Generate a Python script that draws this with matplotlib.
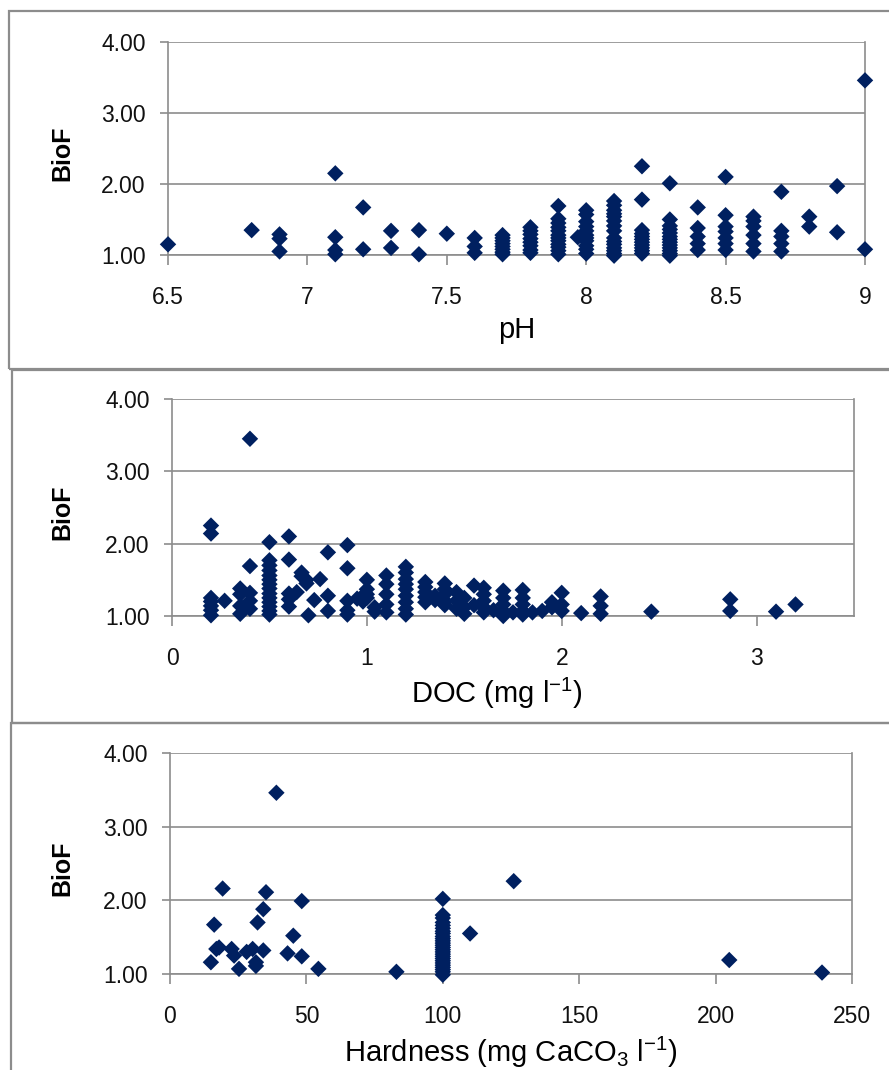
import matplotlib.pyplot as plt
from matplotlib.patches import Rectangle

# BioF against pH
ph = [6.5, 6.8, 6.9, 6.9, 6.9,
      7.1, 7.1, 7.1, 7.1, 7.2, 7.2, 7.3, 7.3, 7.4, 7.4, 7.5,
      7.6, 7.6, 7.6,
      7.7, 7.7, 7.7, 7.7, 7.7, 7.7, 7.7, 7.7,
      7.8, 7.8, 7.8, 7.8, 7.8, 7.8, 7.8, 7.8,
      7.9, 7.9, 7.9, 7.9, 7.9, 7.9, 7.9, 7.9, 7.9, 7.9, 7.9, 7.9,
      7.97,
      8.0, 8.0, 8.0, 8.0, 8.0, 8.0, 8.0, 8.0, 8.0, 8.0, 8.0,
      8.1, 8.1, 8.1, 8.1, 8.1, 8.1, 8.1, 8.1, 8.1, 8.1, 8.1, 8.1, 8.1, 8.1, 8.1,
      8.2, 8.2, 8.2, 8.2, 8.2, 8.2, 8.2, 8.2, 8.2, 8.2, 8.2,
      8.3, 8.3, 8.3, 8.3, 8.3, 8.3, 8.3, 8.3, 8.3, 8.3, 8.3, 8.3, 8.3,
      8.4, 8.4, 8.4, 8.4, 8.4,
      8.5, 8.5, 8.5, 8.5, 8.5, 8.5, 8.5,
      8.6, 8.6, 8.6, 8.6, 8.6, 8.6,
      8.7, 8.7, 8.7, 8.7, 8.7,
      8.8, 8.8, 8.9, 8.9, 9.0, 9.0]
biof_ph = [1.15, 1.35, 1.29, 1.23, 1.05,
           2.15, 1.25, 1.07, 1.01, 1.67, 1.08, 1.34, 1.10, 1.35, 1.01, 1.30,
           1.24, 1.12, 1.03,
           1.28, 1.24, 1.20, 1.16, 1.12, 1.08, 1.04, 1.01,
           1.39, 1.34, 1.29, 1.23, 1.18, 1.13, 1.07, 1.03,
           1.69, 1.51, 1.45, 1.39, 1.34, 1.28, 1.24, 1.20, 1.15, 1.11, 1.06, 1.01,
           1.25,
           1.63, 1.57, 1.47, 1.40, 1.34, 1.28, 1.24, 1.20, 1.13, 1.08, 1.02,
           1.76, 1.70, 1.63, 1.58, 1.54, 1.48, 1.41, 1.34, 1.24, 1.19, 1.15, 1.10, 1.06, 1.02, 0.99,
           2.25, 1.78, 1.35, 1.30, 1.26, 1.22, 1.18, 1.14, 1.10, 1.06, 1.02,
           2.01, 1.50, 1.41, 1.36, 1.31, 1.26, 1.22, 1.18, 1.14, 1.10, 1.06, 1.02, 0.99,
           1.67, 1.38, 1.26, 1.16, 1.07,
           2.10, 1.56, 1.40, 1.33, 1.24, 1.16, 1.07,
           1.54, 1.48, 1.40, 1.28, 1.16, 1.05,
           1.89, 1.34, 1.26, 1.16, 1.05,
           1.54, 1.40, 1.97, 1.32, 3.46, 1.08]

# BioF against dissolved organic carbon
doc = [0.2, 0.2, 0.2, 0.2, 0.2, 0.2, 0.2, 0.27,
       0.35, 0.35, 0.35, 0.35, 0.4, 0.4, 0.4, 0.4, 0.4,
       0.5, 0.5, 0.5, 0.5, 0.5, 0.5, 0.5, 0.5, 0.5, 0.5, 0.5, 0.5, 0.5, 0.5,
       0.6, 0.6, 0.6, 0.6, 0.6, 0.64, 0.665, 0.665, 0.69, 0.69, 0.7, 0.73, 0.76,
       0.8, 0.8, 0.8, 0.9, 0.9, 0.9, 0.9, 0.9, 0.95, 0.98, 0.98,
       1.0, 1.0, 1.0, 1.0, 1.04, 1.04,
       1.1, 1.1, 1.1, 1.1, 1.1,
       1.2, 1.2, 1.2, 1.2, 1.2, 1.2, 1.2, 1.2, 1.2,
       1.3, 1.3, 1.3, 1.3, 1.3, 1.35, 1.35,
       1.4, 1.4, 1.4, 1.4, 1.4, 1.46, 1.46, 1.46, 1.5, 1.5, 1.5, 1.55, 1.55,
       1.6, 1.6, 1.6, 1.6, 1.6, 1.65,
       1.7, 1.7, 1.7, 1.7, 1.7, 1.75,
       1.8, 1.8, 1.8, 1.8, 1.8, 1.85, 1.9, 1.95, 1.95,
       2.0, 2.0, 2.0, 2.1, 2.2, 2.2, 2.2, 2.46, 2.865, 2.865, 3.1, 3.2]
biof_doc = [2.25, 2.14, 1.25, 1.20, 1.14, 1.08, 1.01, 1.21,
            1.38, 1.30, 1.14, 1.03, 3.45, 1.69, 1.32, 1.21, 1.10,
            2.02, 1.77, 1.70, 1.63, 1.56, 1.50, 1.44, 1.38, 1.31, 1.25, 1.19, 1.13, 1.07, 1.02,
            2.10, 1.78, 1.31, 1.23, 1.13, 1.33, 1.60, 1.55, 1.50, 1.45, 1.01, 1.22, 1.51,
            1.88, 1.28, 1.07, 1.98, 1.66, 1.21, 1.08, 1.02, 1.24, 1.28, 1.20,
            1.50, 1.37, 1.30, 1.25, 1.12, 1.06,
            1.56, 1.44, 1.30, 1.16, 1.05,
            1.68, 1.60, 1.51, 1.44, 1.37, 1.28, 1.19, 1.10, 1.02,
            1.47, 1.40, 1.33, 1.26, 1.19, 1.28, 1.22,
            1.45, 1.37, 1.30, 1.21, 1.15, 1.33, 1.21, 1.10, 1.25, 1.12, 1.03, 1.42, 1.15,
            1.39, 1.30, 1.21, 1.12, 1.05, 1.08,
            1.35, 1.25, 1.16, 1.07, 1.00, 1.05,
            1.36, 1.25, 1.16, 1.07, 1.02, 1.05, 1.07, 1.19, 1.12,
            1.32, 1.16, 1.07, 1.04, 1.27, 1.14, 1.03, 1.06, 1.23, 1.07, 1.06, 1.16]

# BioF against hardness
hardness = [15, 16.2, 17, 18, 19.3, 22.6, 23.5, 25.3, 28.1, 30.3, 31.5, 31.5,
            32.1, 34.2, 34.2, 35.2, 39, 43.1, 45.2, 48.3, 48.3, 54.4, 83,
            100, 100, 100, 100, 100, 100, 100, 100, 100, 100, 100, 100, 100,
            100, 100, 100, 100, 100, 100, 100, 100, 100, 100, 100, 100, 100,
            110, 126, 205, 239]
biof_hardness = [1.16, 1.67, 1.34, 1.36, 2.16, 1.34, 1.25, 1.07, 1.30, 1.34, 1.16, 1.11,
                 1.70, 1.88, 1.32, 2.11, 3.46, 1.28, 1.52, 1.99, 1.24, 1.07, 1.03,
                 2.02, 1.80, 1.76, 1.70, 1.66, 1.62, 1.58, 1.55, 1.51, 1.48, 1.45, 1.42, 1.39,
                 1.36, 1.33, 1.30, 1.27, 1.24, 1.21, 1.18, 1.15, 1.12, 1.09, 1.06, 1.03, 0.99,
                 1.55, 2.26, 1.19, 1.02]

yticks = [1, 2, 3, 4]
ph_ticks = [6.5, 7, 7.5, 8, 8.5, 9]
ph_labels = ['6.5', '7', '7.5', '8', '8.5', '9']
doc_ticks = [0, 1, 2, 3]
hardness_ticks = [0, 50, 100, 150, 200, 250]

navy = '#002060'
grey = '#8c8c8c'
font = ['Liberation Sans', 'DejaVu Sans']

plt.rcParams['font.family'] = font
plt.rcParams['mathtext.fontset'] = 'custom'
plt.rcParams['mathtext.rm'] = 'Liberation Sans'
plt.rcParams['mathtext.default'] = 'regular'

fig = plt.figure(figsize=(8.89, 10.70), dpi=100)

# grey boxes around each chart
for x0, y0, h in [(0.010, 0.6551, 0.3346), (0.0135, 0.3243, 0.3299), (0.0124, -0.05, 0.3743)]:
    fig.patches.append(Rectangle((x0, y0), 1.2, h, transform=fig.transFigure,
                                 fill=False, edgecolor=grey, lw=1.6))

panels = [
    ([0.189, 0.7617, 0.784, 0.1990], ph, biof_ph, (6.5, 9), ph_ticks, ph_labels,
     'pH', (-0.152, 0.48), (0.50, -0.352)),
    ([0.1935, 0.4243, 0.7671, 0.2028], doc, biof_doc, (0, 3.5), doc_ticks,
     [str(t) for t in doc_ticks], 'DOC (mg l$^{-1}$)', (-0.161, 0.48), (0.477, -0.355)),
    ([0.1912, 0.0897, 0.7672, 0.2066], hardness, biof_hardness, (0, 250), hardness_ticks,
     [str(t) for t in hardness_ticks], 'Hardness (mg CaCO$_3$ l$^{-1}$)', (-0.158, 0.48), (0.50, -0.353)),
]

for rect, xs, ys, xlim, xt, xtl, xlabel, ylab_pos, xlab_pos in panels:
    ax = fig.add_axes(rect)
    ax.scatter(xs, ys, marker='D', s=70, color=navy, edgecolors='none',
               zorder=3, clip_on=False)
    ax.set_xlim(*xlim)
    ax.set_ylim(1, 4)
    ax.set_yticks(yticks)
    ax.set_yticklabels(['%.2f' % t for t in yticks])
    ax.set_xticks(xt)
    ax.set_xticklabels(xtl)
    ax.grid(axis='y', color=grey, lw=1.2)
    ax.set_axisbelow(True)
    for side in ['left', 'bottom', 'right']:
        ax.spines[side].set_color(grey)
        ax.spines[side].set_linewidth(1.2)
    ax.spines['top'].set_visible(False)
    ax.tick_params(axis='x', direction='out', length=7, width=1.2, color=grey,
                   pad=15, labelsize=16.5, labelcolor='#111111')
    ax.tick_params(axis='y', direction='out', length=6, width=1.2, color=grey,
                   pad=10, labelsize=16.5, labelcolor='#111111')
    ax.set_ylabel('BioF', fontsize=18, fontweight='bold')
    ax.yaxis.set_label_coords(*ylab_pos)
    ax.yaxis.label.set_va('center')
    ax.set_xlabel(xlabel, fontsize=21)
    ax.xaxis.set_label_coords(*xlab_pos)
    ax.xaxis.label.set_va('center')

plt.savefig('out.png', dpi=100)
